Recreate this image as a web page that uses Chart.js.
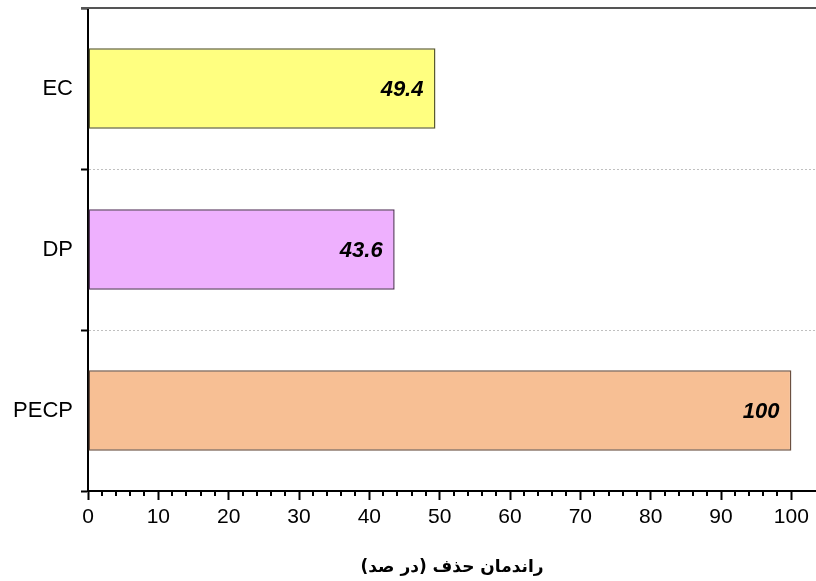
<!DOCTYPE html>
<html>
<head>
<meta charset="utf-8">
<script src="https://cdn.jsdelivr.net/npm/chart.js@4"></script>
<style>
  html, body { margin: 0; padding: 0; background: #fff; }
  #wrap { width: 816px; height: 581px; }
</style>
</head>
<body>
<div id="wrap"><canvas id="chart"></canvas></div>
<script>
// Data
const categories = ['EC', 'DP', 'PECP'];
const values = [49.4, 43.6, 100];
const fillColors = ['#FFFF80', '#EEB0FE', '#F7BF94'];
const edgeColors = ['#5a5a30', '#5a3a60', '#6b5040'];
const axisTitle = 'راندمان حذف (در صد)';

// value labels inside the bars, bold italic near the bar end
const valueLabels = {
  id: 'valueLabels',
  afterDatasetsDraw(chart) {
    const ctx = chart.ctx;
    const meta = chart.getDatasetMeta(0);
    ctx.save();
    ctx.font = 'italic bold 22px "Liberation Sans", Arial, sans-serif';
    ctx.fillStyle = '#000';
    ctx.textAlign = 'right';
    ctx.textBaseline = 'middle';
    meta.data.forEach((bar, i) => {
      ctx.fillText(String(values[i]), bar.x - 12, bar.y + 1);
    });
    ctx.restore();
  }
};

// top frame line and short minor ticks on the x axis
const frame = {
  id: 'frame',
  afterDraw(chart) {
    const ctx = chart.ctx;
    const area = chart.chartArea;
    ctx.save();
    ctx.strokeStyle = '#555';
    ctx.lineWidth = 2;
    ctx.beginPath();
    ctx.moveTo(area.left - 7, area.top);
    ctx.lineTo(area.right, area.top);
    ctx.stroke();

    const xs = chart.scales.x;
    ctx.strokeStyle = '#000';
    ctx.lineWidth = 2;
    xs.ticks.forEach(t => {
      if (t.value % 10 !== 0) {
        const px = Math.round(xs.getPixelForValue(t.value));
        ctx.beginPath();
        ctx.moveTo(px, area.bottom);
        ctx.lineTo(px, area.bottom + 5);
        ctx.stroke();
      }
    });
    ctx.restore();
  }
};

const chart = new Chart(document.getElementById('chart'), {
  type: 'bar',
  data: {
    labels: categories,
    datasets: [{
      data: values,
      backgroundColor: fillColors,
      borderColor: edgeColors,
      borderWidth: 1.5,
      borderSkipped: false,
      barPercentage: 0.5,
      categoryPercentage: 1
    }]
  },
  options: {
    indexAxis: 'y',
    responsive: true,
    maintainAspectRatio: false,
    animation: false,
    layout: { padding: { top: 8, left: 0, right: 0, bottom: 0 } },
    plugins: {
      legend: { display: false },
      tooltip: { enabled: false }
    },
    scales: {
      x: {
        type: 'linear',
        min: 0,
        max: 103.5,
        afterBuildTicks(scale) {
          scale.ticks = scale.ticks.filter(t => t.value % 2 === 0);
        },
        afterFit(scale) { scale.height = 90; },
        ticks: {
          stepSize: 2,
          autoSkip: false,
          maxRotation: 0,
          padding: 5,
          color: '#000',
          font: { family: '"Liberation Sans", Arial, sans-serif', size: 21 },
          callback: v => (v % 10 === 0 ? String(v) : '')
        },
        grid: {
          drawOnChartArea: false,
          tickLength: 9,
          tickWidth: 2,
          tickColor: ctx => (ctx.tick && ctx.tick.value % 10 === 0 ? '#000' : 'rgba(0,0,0,0)')
        },
        border: { color: '#000', width: 2 },
        title: {
          display: true,
          text: axisTitle,
          color: '#000',
          font: { family: '"DejaVu Sans", sans-serif', size: 17, weight: 'bold' },
          padding: { top: 0, bottom: 3 }
        }
      },
      y: {
        afterFit(scale) {
          scale.width = 88;
          scale.paddingTop = 0;
          scale.paddingBottom = 0;
        },
        ticks: {
          padding: 8,
          color: '#000',
          font: { family: '"Liberation Sans", Arial, sans-serif', size: 22 }
        },
        grid: {
          offset: true,
          color: '#c0c0c0',
          lineWidth: 1,
          tickLength: 7,
          tickColor: '#000',
          tickWidth: 2
        },
        border: { color: '#000', width: 2, dash: [2, 2] }
      }
    }
  },
  plugins: [valueLabels, frame]
});
</script>
</body>
</html>
